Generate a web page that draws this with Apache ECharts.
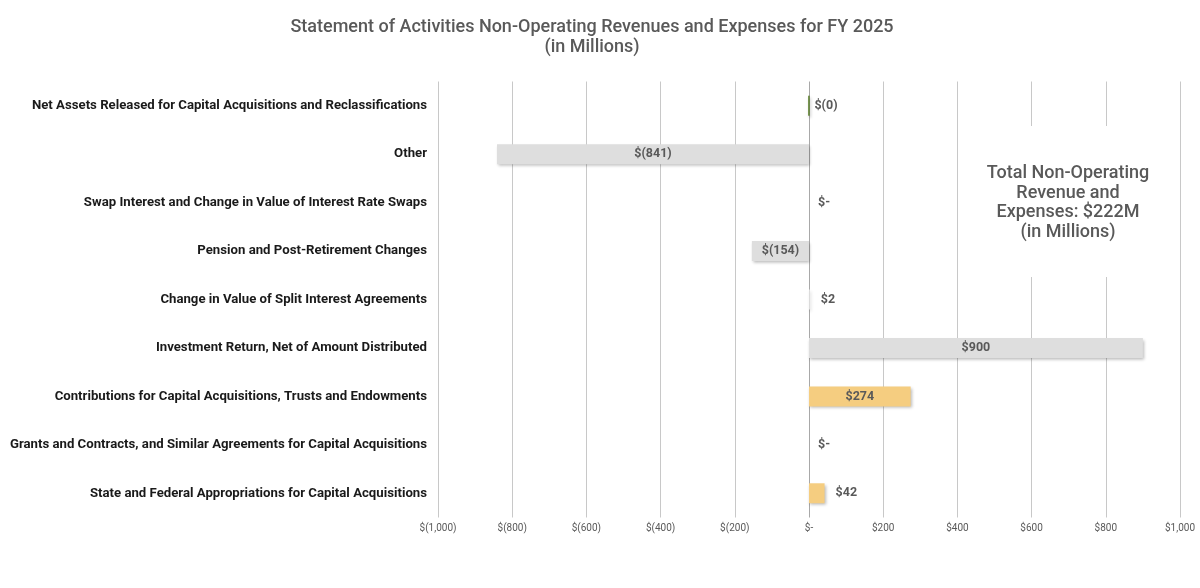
<!DOCTYPE html>
<html>
<head>
<meta charset="utf-8">
<script src="https://cdn.jsdelivr.net/npm/echarts@6/dist/echarts.min.js"></script>
<style>html,body{margin:0;padding:0;background:#fff}#c{width:1200px;height:588px}</style>
</head>
<body>
<div id="c"></div>
<script>
var categories = [
  "Net Assets Released for Capital Acquisitions and Reclassifications",
  "Other",
  "Swap Interest and Change in Value of Interest Rate Swaps",
  "Pension and Post-Retirement Changes",
  "Change in Value of Split Interest Agreements",
  "Investment Return, Net of Amount Distributed",
  "Contributions for Capital Acquisitions, Trusts and Endowments",
  "Grants and Contracts, and Similar Agreements for Capital Acquisitions",
  "State and Federal Appropriations for Capital Acquisitions"
];
var values = [-0.3, -841, 0, -154, 2, 900, 274, 0, 42];
var barColors = ["#5b7f2c", "#dedede", "#dedede", "#dedede", "#f0f0f0", "#dedede", "#f5cd80", "#f5cd80", "#f5cd80"];
var axisTicks = [-1000, -800, -600, -400, -200, 0, 200, 400, 600, 800, 1000];
var titleLines = ["Statement of Activities Non-Operating Revenues and Expenses for FY 2025", "(in Millions)"];
var noteLines = ["Total Non-Operating", "Revenue and", "Expenses: $222M", "(in Millions)"];

var FONT = "Roboto";

function money(v) {
  if (v === 0) return "$-";
  var a = Math.round(Math.abs(v)).toLocaleString("en-US");
  return v < 0 ? "$(" + a + ")" : "$" + a;
}

var insideThreshold = 100;
var data = values.map(function (v, i) {
  var inside = Math.abs(v) >= insideThreshold;
  var item = {
    value: v,
    itemStyle: { color: barColors[i] },
    label: inside ? { position: "inside" } : { position: "right", distance: v === 0 ? 9 : (Math.abs(v) < 1 ? 5 : 11) }
  };
  if (i === 0) { item.itemStyle.borderColor = barColors[i]; item.itemStyle.borderWidth = 1; }
  return item;
});

var gridColors = axisTicks.map(function (t) { return t === 0 ? "#a8a8a8" : "#c8c8c8"; });

var chart = echarts.init(document.getElementById("c"));
chart.setOption({
  animation: false,
  backgroundColor: "#ffffff",
  grid: { left: 438, right: 20, top: 81.5, bottom: 70.5, containLabel: false },
  xAxis: {
    type: "value", min: axisTicks[0], max: axisTicks[axisTicks.length - 1], interval: 200,
    axisLine: { show: false }, axisTick: { show: false },
    splitLine: { show: true, lineStyle: { color: gridColors, width: 1 } },
    axisLabel: { formatter: function (v) { return money(v); }, color: "#595959", fontFamily: FONT, fontSize: 10, margin: 6 }
  },
  yAxis: {
    type: "category", data: categories, inverse: true,
    axisLine: { show: false }, axisTick: { show: false },
    axisLabel: { color: "#1a1a1a", fontFamily: FONT, fontWeight: "bold", fontSize: 13.2, margin: 11 }
  },
  series: [{
    type: "bar", data: data, barWidth: 20,
    itemStyle: { shadowColor: "rgba(0,0,0,0.28)", shadowBlur: 3, shadowOffsetX: 1, shadowOffsetY: 2 },
    label: {
      show: true, color: "#595959", fontFamily: FONT, fontWeight: "bold", fontSize: 12.5,
      formatter: function (p) { return money(p.value); }
    }
  }],
  graphic: [
    { type: "text", x: 592, y: 37.5, z: 100,
      style: { text: titleLines.join("\n"), fill: "#595959", font: "500 18px " + FONT, lineHeight: 20, align: "center", verticalAlign: "middle" } },
    { type: "rect", z: 99, shape: { x: 966, y: 126, width: 206, height: 151 }, style: { fill: "#ffffff" } },
    { type: "text", x: 1068, y: 203, z: 100,
      style: { text: noteLines.join("\n"), fill: "#595959", font: "500 18px " + FONT, lineHeight: 19.7, align: "center", verticalAlign: "middle" } }
  ]
});
</script>
</body>
</html>
